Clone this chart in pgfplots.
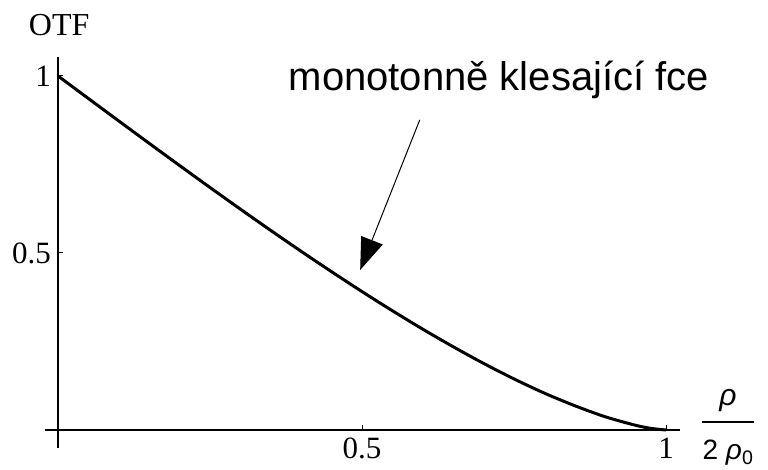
\documentclass[border=0pt]{standalone}
\usepackage{fontspec}
\setmainfont{Liberation Serif}
\newfontfamily\lsans{Liberation Sans}
\usepackage{pgfplots}
\pgfplotsset{compat=1.18}
\usetikzlibrary{arrows.meta}
\begin{document}
\begin{tikzpicture}
\useasboundingbox (0pt,0pt) rectangle (768pt,470pt);
\begin{axis}[
  at={(58pt,40pt)}, anchor=origin,
  x=608pt, y=354pt,
  xmin=-0.0214, xmax=1.023, ymin=-0.051, ymax=1.054,
  axis lines*=middle,
  axis line style={line width=2.8pt, black},
  clip=false,
  xtick={0.5,1}, ytick={0.5,1},
  tick align=inside,
  major tick length=5pt,
  tick style={line width=1pt, black},
  /pgf/number format/assume math mode=true,
  ticklabel style={font=\fontsize{31}{31}\selectfont},
  xticklabel style={inner sep=0pt, yshift=-8pt},
  yticklabel style={inner sep=0pt, xshift=-7pt},
]
\addplot[black, line width=3pt, smooth] coordinates {
(0,1) (0.025,0.96818) (0.05,0.93637) (0.1,0.87290) (0.15,0.80973) (0.2,0.74706)
(0.25,0.68504) (0.3,0.62384) (0.35,0.56364) (0.4,0.50463) (0.45,0.44702)
(0.5,0.39100) (0.55,0.33683) (0.6,0.28476) (0.65,0.23514) (0.7,0.18812)
(0.75,0.14429) (0.8,0.10409) (0.85,0.06857) (0.9,0.03739) (0.95,0.01332)
(0.975,0.00465) (1,0)
};
\node[anchor=base, font=\fontsize{32}{32}\selectfont] at (axis cs:0.002,1.113) {OTF};
\node[anchor=base, font=\fontsize{40}{40}\selectfont\lsans] at (axis cs:0.725,0.960) {monotonně klesající fce};
\draw[line width=1pt, -{Triangle[length=32pt,width=23pt]}] (axis cs:0.595,0.876) -- (axis cs:0.497,0.452);
\node[anchor=base, font=\fontsize{30}{30}\selectfont\lsans\itshape] at (axis cs:1.102,0.070) {ρ};
\draw[line width=2.2pt] (axis cs:1.059,0.0226) -- (axis cs:1.145,0.0226);
\node[anchor=base, font=\fontsize{28}{28}\selectfont\lsans] at (axis cs:1.102,-0.083) {2 \textit{ρ}\textsubscript{0}};
\end{axis}
\end{tikzpicture}
\end{document}
